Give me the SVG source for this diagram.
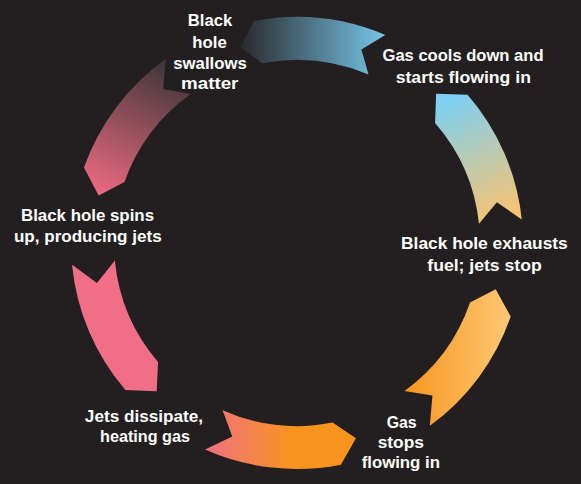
<svg xmlns="http://www.w3.org/2000/svg" width="581" height="484" viewBox="0 0 581 484">
<style>
.lbl{font-family:"Liberation Sans",Arial,sans-serif;font-weight:bold;font-size:16px;fill:#ffffff;text-anchor:middle}
</style>
<defs>
<linearGradient id="g1" gradientUnits="userSpaceOnUse" x1="450" y1="98" x2="505" y2="222"><stop offset="0" stop-color="#7dd0f2"/><stop offset="1" stop-color="#fcc36e"/></linearGradient>
<linearGradient id="g2" gradientUnits="userSpaceOnUse" x1="240" y1="40" x2="385" y2="40"><stop offset="0" stop-color="#29282c"/><stop offset="1" stop-color="#76c6e8"/></linearGradient>
<linearGradient id="g3" gradientUnits="userSpaceOnUse" x1="170" y1="60" x2="100" y2="196"><stop offset="0" stop-color="#3a3536"/><stop offset="1" stop-color="#ed6a82"/></linearGradient>
<linearGradient id="g5" gradientUnits="userSpaceOnUse" x1="205" y1="440" x2="356" y2="440"><stop offset="0" stop-color="#f07081"/><stop offset="0.58" stop-color="#f7941e"/><stop offset="1" stop-color="#f7941e"/></linearGradient>
<linearGradient id="g6" gradientUnits="userSpaceOnUse" x1="405" y1="360" x2="510" y2="360"><stop offset="0" stop-color="#f7961f"/><stop offset="1" stop-color="#fec873"/></linearGradient>
</defs>
<rect x="0" y="0" width="581" height="484" fill="#231f20"/>
<g id="connectors">
<path id="arrow-right" fill="url(#g1)" d="M521.76,219.38 A226,226 0 0 0 467.56,94.73 L436.13,93.8 L435.11,122.94 A183,183 0 0 1 479.0,223.87 L496.9,202.3 Z"/>
<path id="arrow-top" fill="url(#g2)" d="M385.3,35.0 A226,226 0 0 0 253.88,21.15 L240.77,46.9 L262.08,63.36 A183,183 0 0 1 368.5,74.55 L361.39,49.43 Z"/>
<path id="arrow-upperleft" fill="url(#g3)" d="M165.76,59.01 A226,226 0 0 0 83.96,167.56 L98.64,195.38 L124.5,181.91 A183,183 0 0 1 190.73,94.02 L163.16,89.04 Z"/>
<path id="arrow-left" fill="#f16f86" d="M72.04,264.66 A226,226 0 0 0 125.4,390.07 L156.73,391.13 L158.05,362.09 A183,183 0 0 1 114.84,260.54 L96.96,282.97 Z"/>
<path id="arrow-bottom" fill="url(#g5)" d="M205.08,449.46 A226,226 0 0 0 340.9,464.7 L355.96,438.29 L332.54,422.52 A183,183 0 0 1 222.57,410.18 L232.27,436.46 Z"/>
<path id="arrow-bottomright" fill="url(#g6)" d="M429.84,425.84 A226,226 0 0 0 510.69,316.58 L495.69,289.24 L470.03,302.58 A183,183 0 0 1 404.57,391.05 L432.44,395.55 Z"/>
</g>
<g id="node-swallows">
<text class="lbl" x="210" y="26" textLength="44.6" lengthAdjust="spacingAndGlyphs">Black</text>
<text class="lbl" x="209.5" y="47.5" textLength="34.4" lengthAdjust="spacingAndGlyphs">hole</text>
<text class="lbl" x="210" y="68.5" textLength="73.4" lengthAdjust="spacingAndGlyphs">swallows</text>
<text class="lbl" x="209.7" y="89" textLength="57.3" lengthAdjust="spacingAndGlyphs">matter</text>
</g>
<g id="node-cools">
<text class="lbl" x="463" y="60.7" textLength="161" lengthAdjust="spacingAndGlyphs">Gas cools down and</text>
<text class="lbl" x="463.3" y="83.3" textLength="135.3" lengthAdjust="spacingAndGlyphs">starts flowing in</text>
</g>
<g id="node-exhausts">
<text class="lbl" x="484.4" y="248.7" textLength="166.7" lengthAdjust="spacingAndGlyphs">Black hole exhausts</text>
<text class="lbl" x="484.5" y="270.7" textLength="114.4" lengthAdjust="spacingAndGlyphs">fuel; jets stop</text>
</g>
<g id="node-stops">
<text class="lbl" x="401.7" y="427.7" textLength="30" lengthAdjust="spacingAndGlyphs">Gas</text>
<text class="lbl" x="400.8" y="447.7" textLength="46.3" lengthAdjust="spacingAndGlyphs">stops</text>
<text class="lbl" x="400.8" y="467.7" textLength="78.3" lengthAdjust="spacingAndGlyphs">flowing in</text>
</g>
<g id="node-dissipate">
<text class="lbl" x="144" y="421.7" textLength="118.3" lengthAdjust="spacingAndGlyphs">Jets dissipate,</text>
<text class="lbl" x="145" y="442" textLength="90" lengthAdjust="spacingAndGlyphs">heating gas</text>
</g>
<g id="node-spins">
<text class="lbl" x="87.5" y="220.7" textLength="133" lengthAdjust="spacingAndGlyphs">Black hole spins</text>
<text class="lbl" x="87.8" y="242" textLength="147.7" lengthAdjust="spacingAndGlyphs">up, producing jets</text>
</g>
</svg>
